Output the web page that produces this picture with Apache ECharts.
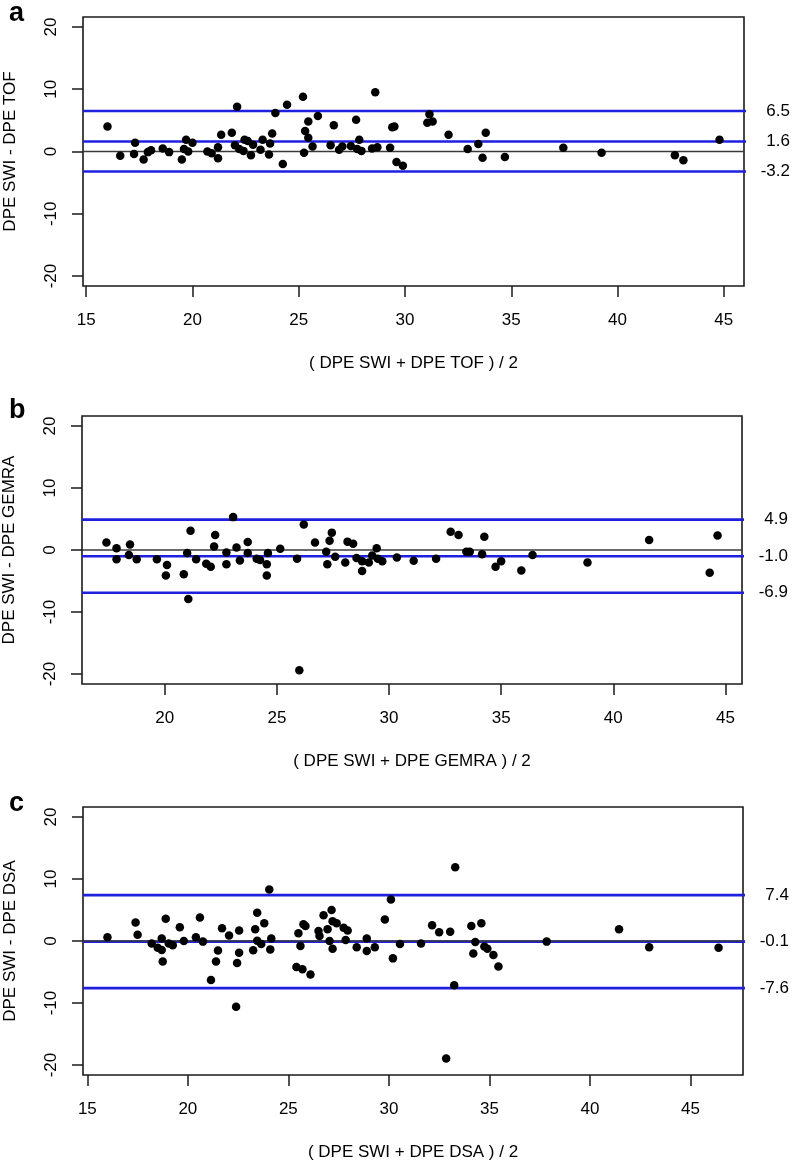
<!DOCTYPE html>
<html>
<head>
<meta charset="utf-8">
<script src="https://cdn.jsdelivr.net/npm/echarts@6/dist/echarts.min.js"></script>
<style>
  html, body { margin: 0; padding: 0; background: #fff; }
  #main { width: 792px; height: 1164px; }
</style>
</head>
<body>
<div id="main"></div>
<script>
// panel a: (DPE SWI + DPE TOF)/2 vs difference
var pointsA = [
  [16.0, 4.0], [16.6, -0.7], [17.3, 1.4], [17.25, -0.4], [17.7, -1.3], [17.9, -0.1], [18.05, 0.2],
  [18.6, 0.5], [18.9, -0.1], [19.5, -1.3], [19.6, 0.4], [19.7, 1.9], [19.8, 0.0], [20.0, 1.4],
  [20.7, 0.0], [20.9, -0.3], [21.2, 0.7], [21.2, -1.1], [21.35, 2.7], [21.85, 3.0], [22.0, 1.0],
  [22.1, 7.2], [22.2, 0.4], [22.4, 0.1], [22.45, 1.9], [22.6, 1.7], [22.75, -0.6], [22.85, 1.1],
  [23.2, 0.3], [23.3, 1.9], [23.6, -0.5], [23.65, 1.3], [23.75, 2.9], [23.9, 6.2], [24.25, -2.0],
  [24.45, 7.5], [25.2, 8.8], [25.3, 3.3], [25.25, -0.2], [25.45, 2.2], [25.45, 4.8], [25.65, 0.8],
  [25.9, 5.7], [26.5, 1.0], [26.65, 4.2], [26.9, 0.3], [27.05, 0.8], [27.45, 0.9], [27.7, 5.1],
  [27.85, 1.9], [27.75, 0.4], [27.95, 0.1], [28.6, 9.5], [28.45, 0.5], [28.7, 0.7], [29.3, 0.6],
  [29.4, 3.9], [29.5, 4.0], [29.6, -1.7], [29.9, -2.3], [31.15, 6.0], [31.05, 4.6], [31.3, 4.8],
  [32.05, 2.7], [32.95, 0.4], [33.45, 1.2], [33.8, 3.0], [33.65, -1.0], [34.7, -0.9], [37.45, 0.6],
  [39.25, -0.2], [42.7, -0.6], [43.1, -1.4], [44.8, 1.9]
]
var limitsA = [6.5, 1.6, -3.2]
var xTicksA = [15, 20, 25, 30, 35, 40, 45]

// panel b: GEMRA
var pointsB = [
  [17.4, 1.2], [17.85, 0.3], [17.85, -1.5], [18.45, 0.9], [18.4, -0.8], [18.75, -1.5], [19.65, -1.5],
  [20.1, -2.4], [20.05, -4.1], [20.85, -3.9], [21.05, -7.9], [21.0, -0.5], [21.15, 3.1], [21.4, -1.5],
  [21.85, -2.2], [22.05, -2.7], [22.2, 0.55], [22.25, 2.4], [22.75, -0.4], [22.75, -2.3], [23.05, 5.3],
  [23.2, 0.4], [23.35, -1.7], [23.7, 1.3], [23.7, -0.5], [24.1, -1.4], [24.25, -1.6], [24.55, -2.3],
  [24.55, -4.1], [24.6, -0.5], [25.15, 0.2], [25.9, -1.4], [26.0, -19.4], [26.2, 4.1], [26.7, 1.2],
  [27.2, -0.3], [27.25, -2.3], [27.35, 1.5], [27.45, 2.8], [27.6, -1.1], [28.05, -2.0], [28.15, 1.35],
  [28.4, 1.0], [28.55, -1.3], [28.8, -1.8], [28.8, -3.4], [29.1, -2.0], [29.25, -0.9], [29.45, 0.3],
  [29.5, -1.4], [29.7, -1.8], [30.35, -1.2], [31.1, -1.75], [32.1, -1.4], [32.75, 2.95], [33.1, 2.4],
  [33.45, -0.3], [33.6, -0.3], [34.15, -0.7], [34.25, 2.15], [34.75, -2.7], [35.0, -1.8], [35.9, -3.3],
  [36.4, -0.8], [38.85, -2.0], [41.6, 1.6], [44.3, -3.65], [44.65, 2.35]
]
var limitsB = [4.9, -1.0, -6.9]
var xTicksB = [20, 25, 30, 35, 40, 45]

// panel c: DSA
var pointsC = [
  [16.0, 0.6], [17.4, 3.0], [17.5, 1.0], [18.2, -0.4], [18.5, -1.1], [18.7, 0.4], [18.7, -1.45],
  [18.75, -3.3], [18.9, 3.6], [19.05, -0.4], [19.25, -0.7], [19.6, 2.2], [19.8, 0.0], [20.4, 0.6],
  [20.6, 3.8], [20.75, -0.1], [21.15, -6.3], [21.4, -3.3], [21.5, -1.55], [21.7, 2.05], [22.05, 0.9],
  [22.4, -10.6], [22.45, -3.55], [22.55, 1.7], [22.55, -1.9], [23.25, -1.5], [23.35, 1.9], [23.45, 4.55],
  [23.45, 0.05], [23.65, -0.5], [23.8, 2.85], [24.05, 8.3], [24.1, -1.35], [24.15, 0.4], [25.4, -4.2],
  [25.5, 1.25], [25.6, -0.8], [25.7, -4.55], [25.75, 2.7], [25.85, 2.4], [26.1, -5.4], [26.5, 1.6],
  [26.55, 0.8], [26.75, 4.15], [26.95, 1.9], [27.05, 0.0], [27.15, 5.0], [27.2, -1.25], [27.2, 3.2],
  [27.4, 2.85], [27.75, 2.15], [27.95, 1.7], [27.85, 0.15], [28.4, -1.0], [28.9, 0.4], [28.9, -1.6],
  [29.3, -1.0], [29.8, 3.45], [30.1, 6.7], [30.2, -2.8], [30.55, -0.5], [31.6, -0.4], [32.15, 2.55],
  [32.5, 1.4], [32.85, -18.95], [33.05, 1.5], [33.25, -7.15], [33.3, 11.9], [34.1, 2.4], [34.6, 2.85],
  [34.3, -0.15], [34.2, -2.0], [34.75, -0.9], [34.9, -1.25], [35.2, -2.25], [35.45, -4.1], [37.85, -0.1],
  [41.45, 1.9], [42.95, -1.0], [46.4, -1.1]
]
var limitsC = [7.4, -0.1, -7.6]
var xTicksC = [15, 20, 25, 30, 35, 40, 45]

var yTicks = [-20, -10, 0, 10, 20]

var font = "'Liberation Sans', Arial, sans-serif"
var blue = '#1f1fe0'

// R style range: data range stretched by 4% on each side
function rRange(vals) {
    var lo = Math.min.apply(null, vals), hi = Math.max.apply(null, vals)
    var d = (hi - lo) * 0.04
    return [lo - d, hi + d]
}

var panels = [
    { letter: 'a', pts: pointsA, limits: limitsA, xTicks: xTicksA,
      yName: 'DPE SWI - DPE TOF', xName: '( DPE SWI + DPE TOF ) / 2',
      box: { left: 83, top: 17, width: 661, height: 269 }, letterTop: -5 },
    { letter: 'b', pts: pointsB, limits: limitsB, xTicks: xTicksB,
      yName: 'DPE SWI - DPE GEMRA', xName: '( DPE SWI + DPE GEMRA ) / 2',
      box: { left: 82, top: 416, width: 660, height: 268 }, letterTop: 392 },
    { letter: 'c', pts: pointsC, limits: limitsC, xTicks: xTicksC,
      yName: 'DPE SWI - DPE DSA', xName: '( DPE SWI + DPE DSA ) / 2',
      box: { left: 83, top: 807, width: 660, height: 268 }, letterTop: 785 }
]

var grids = [], xAxes = [], yAxes = [], series = [], titles = []
var yr = rRange([-20, 20])

panels.forEach(function (p, i) {
    var xr = rRange(p.pts.map(function (d) { return d[0] }))
    var xEnd = xr[1] + (xr[1] - xr[0]) * 0.0166   // limit lines run a bit past the box

    grids.push({
        left: p.box.left, top: p.box.top, width: p.box.width, height: p.box.height,
        show: true, borderColor: '#1a1a1a', borderWidth: 1.6, backgroundColor: 'transparent',
        outerBoundsMode: 'none'
    })
    xAxes.push({
        type: 'value', gridIndex: i, min: xr[0], max: xr[1],
        axisLine: { show: false, onZero: false },
        splitLine: { show: false },
        axisTick: { show: true, customValues: p.xTicks, length: 11, lineStyle: { color: '#1a1a1a', width: 1.5 } },
        axisLabel: { customValues: p.xTicks, margin: 26, fontSize: 17, color: '#000', fontFamily: font },
        name: p.xName, nameLocation: 'middle', nameGap: 69,
        nameTextStyle: { fontSize: 17, color: '#000', fontFamily: font }
    })
    yAxes.push({
        type: 'value', gridIndex: i, min: yr[0], max: yr[1],
        axisLine: { show: false, onZero: false },
        splitLine: { show: false },
        axisTick: { show: true, customValues: yTicks, length: 11, lineStyle: { color: '#1a1a1a', width: 1.5 } },
        axisLabel: { customValues: yTicks, rotate: 90, margin: 23, fontSize: 17, color: '#000', fontFamily: font },
        name: p.yName, nameLocation: 'middle', nameGap: 64,
        nameTextStyle: { fontSize: 17, color: '#000', fontFamily: font }
    })

    p.limits.forEach(function (v) {
        series.push({
            type: 'line', xAxisIndex: i, yAxisIndex: i, clip: false, silent: true,
            symbol: 'circle', symbolSize: 0, z: 2,
            lineStyle: { color: blue, width: 2.6 },
            data: [
                [xr[0], v],
                { value: [xEnd, v], label: { show: true, position: 'right', distance: 35, align: 'right',
                    formatter: v.toFixed(1), fontSize: 17, color: '#000', fontFamily: font } }
            ]
        })
    })
    series.push({
        type: 'line', xAxisIndex: i, yAxisIndex: i, silent: true,
        symbol: 'none', z: 3,
        lineStyle: { color: '#3a3a3a', width: 1.5 },
        data: [[xr[0], 0], [xr[1], 0]]
    })
    series.push({
        type: 'scatter', xAxisIndex: i, yAxisIndex: i, silent: true, z: 5,
        symbol: 'circle', symbolSize: 8.5,
        itemStyle: { color: '#000', opacity: 1 },
        data: p.pts
    })

    titles.push({
        text: p.letter, left: 4, top: p.letterTop,
        textStyle: { fontSize: 27, fontWeight: 'bold', color: '#000', fontFamily: font }
    })
})

var myChart = echarts.init(document.getElementById('main'))
myChart.setOption({
    animation: false,
    title: titles,
    grid: grids,
    xAxis: xAxes,
    yAxis: yAxes,
    series: series
})
</script>
</body>
</html>
